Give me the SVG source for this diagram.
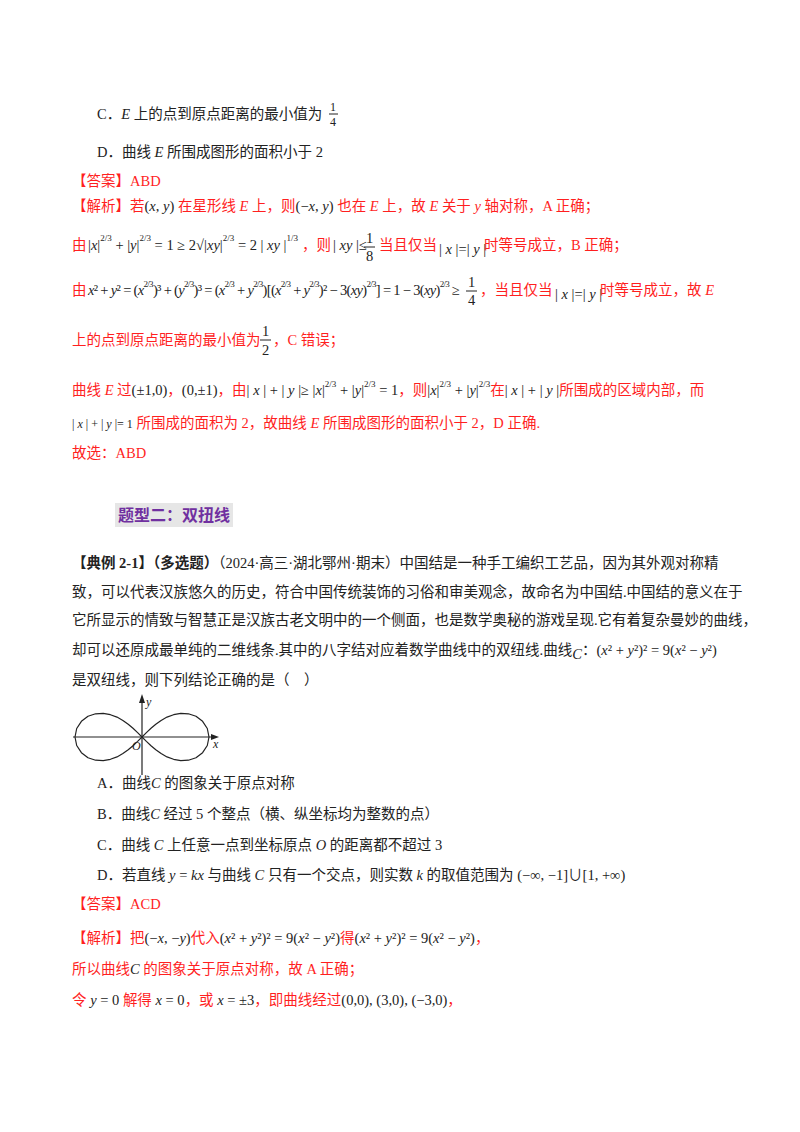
<svg xmlns="http://www.w3.org/2000/svg" width="800" height="1132" viewBox="0 0 800 1132">
<style>
text{font-family:"Liberation Serif","Noto Sans CJK SC",serif;font-size:14.5px;fill:#222}
.r{fill:#ff1f1f}
.i{font-style:italic}
.s{font-size:9px}
.b{font-weight:bold}
.ax{stroke:#222;stroke-width:1.2;fill:none}
</style>
<rect width="800" height="1132" fill="#fff"/>
<text x="97" y="119">C．<tspan class="i">E</tspan> 上的点到原点距离的最小值为</text>
<text x="330" y="111" style="font-size:12px">1</text>
<line x1="329" y1="114" x2="338" y2="114" stroke="#222"/>
<text x="330" y="126" style="font-size:12px">4</text>
<text x="97" y="157">D．曲线 <tspan class="i">E</tspan> 所围成图形的面积小于 2</text>
<text x="72" y="186" class="r">【答案】ABD</text>
<text x="72" y="211" class="r">【解析】若<tspan fill="#222">(<tspan class="i">x</tspan>, <tspan class="i">y</tspan>)</tspan> 在星形线 <tspan class="i">E</tspan> 上，则<tspan fill="#222">(−<tspan class="i">x</tspan>, <tspan class="i">y</tspan>)</tspan> 也在 <tspan class="i">E</tspan> 上，故 <tspan class="i">E</tspan> 关于 <tspan class="i">y</tspan> 轴对称，A 正确；</text>
<text x="72" y="250" class="r">由</text>
<text x="88" y="250">|<tspan class="i">x</tspan>|<tspan class="s" dy="-9">2/3</tspan><tspan dy="9"> + |<tspan class="i">y</tspan>|</tspan><tspan class="s" dy="-9">2/3</tspan><tspan dy="9"> = 1 ≥ 2√|<tspan class="i">xy</tspan>|</tspan><tspan class="s" dy="-9">2/3</tspan><tspan dy="9"> = 2 | <tspan class="i">xy</tspan> |</tspan><tspan class="s" dy="-9">1/3</tspan></text>
<text x="302" y="250" class="r">，则</text>
<text x="333" y="250">| <tspan class="i">xy</tspan> |≤</text>
<text x="366" y="243">1</text><line x1="364" y1="247" x2="375" y2="247" stroke="#222"/><text x="366" y="261">8</text>
<text x="379" y="250" class="r">当且仅当</text>
<text x="439" y="254">| <tspan class="i">x</tspan> |=| <tspan class="i">y</tspan> |</text>
<text x="484" y="250" class="r">时等号成立，B 正确；</text>
<text x="72" y="295" class="r">由</text>
<text x="88" y="295" textLength="372" lengthAdjust="spacing"><tspan class="i">x</tspan>² + <tspan class="i">y</tspan>² = (<tspan class="i">x</tspan><tspan class="s" dy="-8">2/3</tspan><tspan dy="8">)³ + (<tspan class="i">y</tspan></tspan><tspan class="s" dy="-8">2/3</tspan><tspan dy="8">)³ = (<tspan class="i">x</tspan></tspan><tspan class="s" dy="-8">2/3</tspan><tspan dy="8"> + <tspan class="i">y</tspan></tspan><tspan class="s" dy="-8">2/3</tspan><tspan dy="8">)[(<tspan class="i">x</tspan></tspan><tspan class="s" dy="-8">2/3</tspan><tspan dy="8"> + <tspan class="i">y</tspan></tspan><tspan class="s" dy="-8">2/3</tspan><tspan dy="8">)² − 3(<tspan class="i">xy</tspan>)</tspan><tspan class="s" dy="-8">2/3</tspan><tspan dy="8">] = 1 − 3(<tspan class="i">xy</tspan>)</tspan><tspan class="s" dy="-8">2/3</tspan><tspan dy="8"> ≥</tspan></text>
<text x="468" y="287">1</text><line x1="466" y1="291" x2="477" y2="291" stroke="#222"/><text x="468" y="305">4</text>
<text x="480" y="295" class="r">，当且仅当</text>
<text x="555" y="299">| <tspan class="i">x</tspan> |=| <tspan class="i">y</tspan> |</text>
<text x="600" y="295" class="r">时等号成立，故 <tspan class="i">E</tspan></text>
<text x="72" y="345" class="r">上的点到原点距离的最小值为</text>
<text x="262" y="336">1</text><line x1="260" y1="340" x2="271" y2="340" stroke="#222"/><text x="262" y="355">2</text>
<text x="273" y="345" class="r">，C 错误；</text>
<text x="72" y="395" class="r">曲线 <tspan class="i">E</tspan> 过<tspan fill="#222">(±1,0)</tspan>，<tspan fill="#222">(0,±1)</tspan>，由<tspan fill="#222">| <tspan class="i">x</tspan> | + | <tspan class="i">y</tspan> |≥ |<tspan class="i">x</tspan>|<tspan class="s" dy="-8">2/3</tspan><tspan dy="8"> + |<tspan class="i">y</tspan>|</tspan><tspan class="s" dy="-8">2/3</tspan><tspan dy="8"> = 1</tspan></tspan>，则<tspan fill="#222">|<tspan class="i">x</tspan>|<tspan class="s" dy="-8">2/3</tspan><tspan dy="8"> + |<tspan class="i">y</tspan>|</tspan><tspan class="s" dy="-8">2/3</tspan></tspan><tspan dy="8">在</tspan><tspan fill="#222">| <tspan class="i">x</tspan> | + | <tspan class="i">y</tspan> |</tspan>所围成的区域内部，而</text>
<text x="72" y="428" class="r"><tspan fill="#222" style="font-size:12px">| <tspan class="i">x</tspan> | + | <tspan class="i">y</tspan> |= 1</tspan> 所围成的面积为 2，故曲线 <tspan class="i">E</tspan> 所围成图形的面积小于 2，D 正确.</text>
<text x="72" y="458" class="r">故选：ABD</text>
<rect x="115" y="503" width="118" height="24" fill="#e6e6e6"/>
<text x="118" y="521" class="b" style="fill:#7030a0;font-size:16px">题型二：双扭线</text>
<text x="72" y="568"><tspan class="b">【典例 2-1】（多选题）</tspan>（2024·高三·湖北鄂州·期末）中国结是一种手工编织工艺品，因为其外观对称精</text>
<text x="72" y="597">致，可以代表汉族悠久的历史，符合中国传统装饰的习俗和审美观念，故命名为中国结.中国结的意义在于</text>
<text x="72" y="625">它所显示的情致与智慧正是汉族古老文明中的一个侧面，也是数学奥秘的游戏呈现.它有着复杂曼妙的曲线，</text>
<text x="72" y="655">却可以还原成最单纯的二维线条.其中的八字结对应着数学曲线中的双纽线.曲线<tspan class="i" dy="4">C</tspan><tspan dy="-4">：(<tspan class="i">x</tspan>² + <tspan class="i">y</tspan>²)² = 9(<tspan class="i">x</tspan>² − <tspan class="i">y</tspan>²)</tspan></text>
<text x="72" y="685">是双纽线，则下列结论正确的是（　）</text>
<g id="figure">
<line class="ax" x1="73" y1="737" x2="213" y2="737"/>
<path d="M219,737 L211,734 L211,740 Z" fill="#222"/>
<line class="ax" x1="142" y1="775" x2="142" y2="700"/>
<path d="M142,694 L139,703 L145,703 Z" fill="#222"/>
<path class="ax" transform="translate(142,737)" d="M0,0 L4.4,-4.4 9,-8.7 13.8,-12.8 19.1,-16.6 25,-19.9 31.6,-22.3 38.8,-23.6 46.4,-23.2 54,-20.7 60.6,-15.7 65.3,-8.5 67,0 65.3,8.5 60.6,15.7 54,20.7 46.4,23.2 38.8,23.6 31.6,22.3 25,19.9 19.1,16.6 13.8,12.8 9,8.7 4.4,4.4 0,0 -4.4,-4.4 -9,-8.7 -13.8,-12.8 -19.1,-16.6 -25,-19.9 -31.6,-22.3 -38.8,-23.6 -46.4,-23.2 -54,-20.7 -60.6,-15.7 -65.3,-8.5 -67,0 -65.3,8.5 -60.6,15.7 -54,20.7 -46.4,23.2 -38.8,23.6 -31.6,22.3 -25,19.9 -19.1,16.6 -13.8,12.8 -9,8.7 -4.4,4.4 Z" stroke-linejoin="round"/>
<text x="146" y="706" class="i" style="font-size:12px">y</text>
<text x="213" y="748" class="i" style="font-size:12px">x</text>
<text x="132" y="750" class="i" style="font-size:12px">O</text>
</g>
<text x="97" y="788">A．曲线<tspan class="i">C</tspan> 的图象关于原点对称</text>
<text x="97" y="819">B．曲线<tspan class="i">C</tspan> 经过 5 个整点（横、纵坐标均为整数的点）</text>
<text x="97" y="850">C．曲线 <tspan class="i">C</tspan> 上任意一点到坐标原点 <tspan class="i">O</tspan> 的距离都不超过 3</text>
<text x="97" y="880">D．若直线 <tspan class="i">y</tspan> = <tspan class="i">kx</tspan> 与曲线 <tspan class="i">C</tspan> 只有一个交点，则实数 <tspan class="i">k</tspan> 的取值范围为 (−∞, −1]∪[1, +∞)</text>
<text x="72" y="909" class="r">【答案】ACD</text>
<text x="72" y="943" class="r">【解析】把<tspan fill="#222">(−<tspan class="i">x</tspan>, −<tspan class="i">y</tspan>)</tspan>代入<tspan fill="#222">(<tspan class="i">x</tspan>² + <tspan class="i">y</tspan>²)² = 9(<tspan class="i">x</tspan>² − <tspan class="i">y</tspan>²)</tspan>得<tspan fill="#222">(<tspan class="i">x</tspan>² + <tspan class="i">y</tspan>²)² = 9(<tspan class="i">x</tspan>² − <tspan class="i">y</tspan>²)</tspan>，</text>
<text x="72" y="974" class="r">所以曲线<tspan fill="#222" class="i">C</tspan> 的图象关于原点对称，故 A 正确；</text>
<text x="72" y="1005" class="r">令 <tspan fill="#222"><tspan class="i">y</tspan> = 0</tspan> 解得 <tspan fill="#222"><tspan class="i">x</tspan> = 0</tspan>，或 <tspan fill="#222"><tspan class="i">x</tspan> = ±3</tspan>，即曲线经过<tspan fill="#222">(0,0), (3,0), (−3,0)</tspan>，</text>
</svg>
